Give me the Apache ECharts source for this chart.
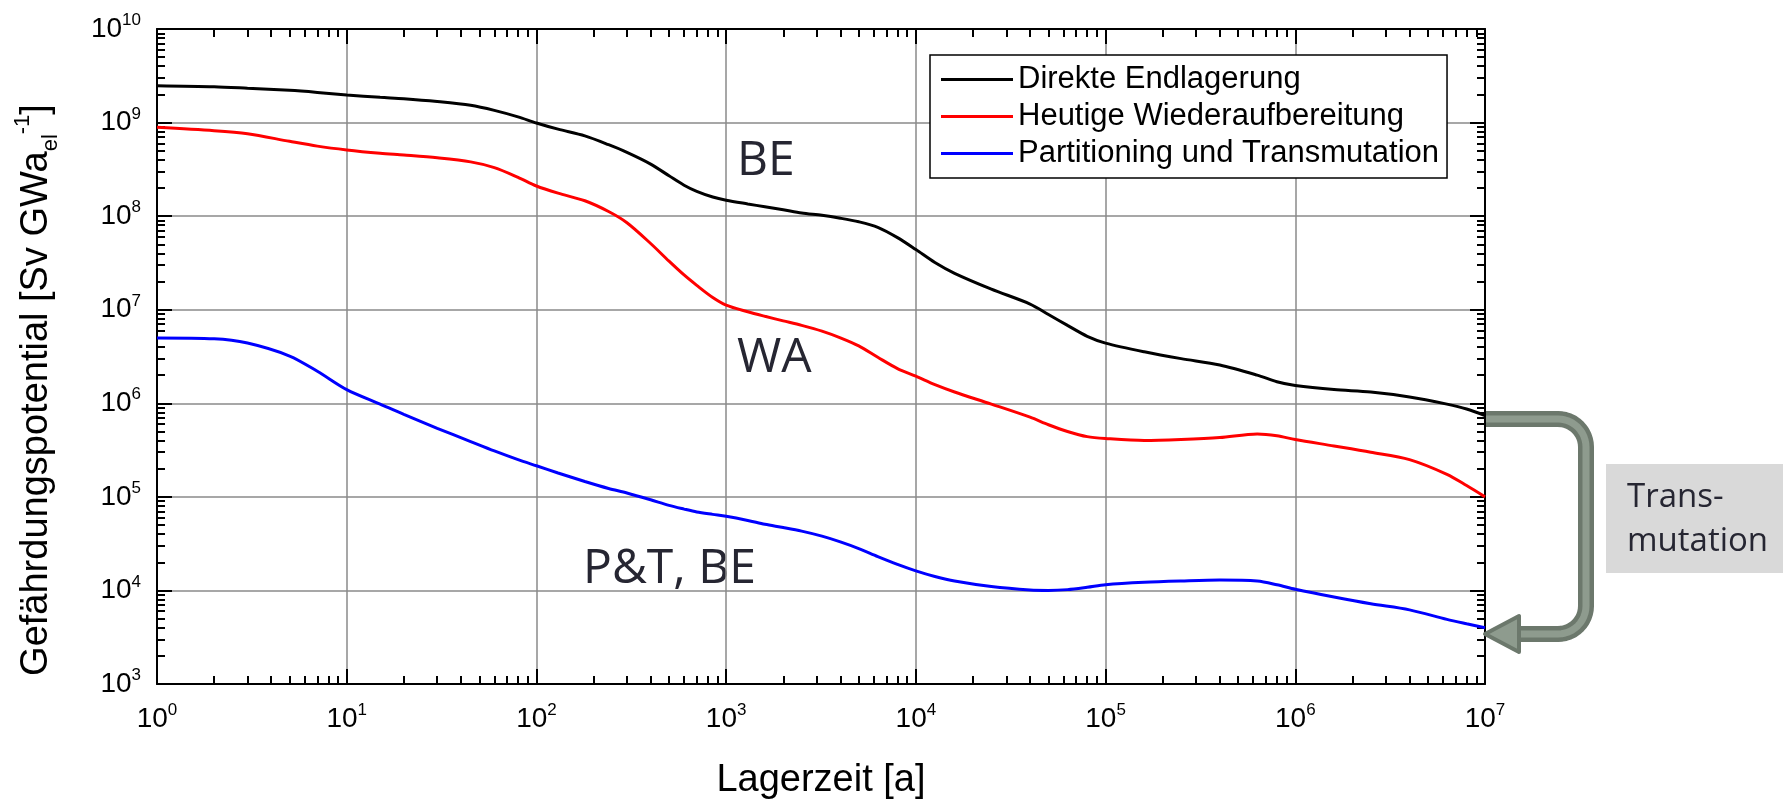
<!DOCTYPE html>
<html>
<head>
<meta charset="utf-8">
<script src="https://cdn.jsdelivr.net/npm/echarts@6/dist/echarts.min.js"></script>
<style>
  html, body { margin: 0; padding: 0; background: #fff; }
  #chart { width: 1783px; height: 802px; }
</style>
</head>
<body>
<div id="chart"></div>
<script>
// Lagerzeit [a]
var years = [1, 2, 3, 5, 7, 10, 15, 20, 30, 45, 60, 80, 100, 130, 180, 240, 300, 400, 500, 600, 700, 850,
  1000, 1300, 1600, 2000, 2500, 3200, 4000, 5000, 6300, 8000, 1e4, 1.26e4, 1.6e4, 2.5e4, 4e4, 5e4, 6.3e4, 8e4,
  1e5, 1.6e5, 2.5e5, 4e5, 6.3e5, 8e5, 1e6, 1.6e6, 2.5e6, 4e6, 6.3e6, 8e6, 1e7];
// Gefährdungspotential [Sv/GWa_el]
var direkte = [2.48e9, 2.42e9, 2.33e9, 2.21e9, 2.10e9, 1.97e9, 1.86e9, 1.80e9, 1.68e9, 1.53e9, 1.35e9, 1.15e9, 9.9e8, 8.5e8, 7.2e8, 5.8e8, 4.8e8, 3.6e8, 2.7e8, 2.14e8, 1.84e8, 1.60e8,
  1.48e8, 1.35e8, 1.26e8, 1.17e8, 1.08e8, 1.02e8, 9.5e7, 8.7e7, 7.6e7, 5.9e7, 4.4e7, 3.2e7, 2.45e7, 1.66e7, 1.15e7, 8.9e6, 6.8e6, 5.2e6,
  4.4e6, 3.55e6, 3.0e6, 2.57e6, 2.0e6, 1.7e6, 1.55e6, 1.40e6, 1.32e6, 1.17e6, 9.8e5, 8.7e5, 7.4e5];
var heutige = [8.9e8, 8.2e8, 7.6e8, 6.3e8, 5.6e8, 5.1e8, 4.7e8, 4.5e8, 4.2e8, 3.8e8, 3.3e8, 2.6e8, 2.1e8, 1.76e8, 1.46e8, 1.12e8, 8.5e7, 5.1e7, 3.3e7, 2.35e7, 1.82e7, 1.35e7,
  1.12e7, 9.5e6, 8.5e6, 7.6e6, 6.8e6, 5.9e6, 5.0e6, 4.1e6, 3.1e6, 2.35e6, 1.95e6, 1.58e6, 1.32e6, 9.8e5, 7.1e5, 5.9e5, 5.0e5, 4.4e5,
  4.2e5, 4.0e5, 4.1e5, 4.3e5, 4.7e5, 4.5e5, 4.1e5, 3.5e5, 3.0e5, 2.5e5, 1.74e5, 1.32e5, 1.0e5];
var partTrans = [5.0e6, 4.9e6, 4.4e6, 3.2e6, 2.2e6, 1.4e6, 9.8e5, 7.6e5, 5.4e5, 3.9e5, 3.1e5, 2.5e5, 2.15e5, 1.8e5, 1.46e5, 1.23e5, 1.1e5, 9.3e4, 8.1e4, 7.4e4, 6.9e4, 6.5e4,
  6.2e4, 5.6e4, 5.1e4, 4.7e4, 4.3e4, 3.8e4, 3.3e4, 2.8e4, 2.3e4, 1.9e4, 1.62e4, 1.41e4, 1.26e4, 1.1e4, 1.01e4, 1.0e4, 1.02e4, 1.08e4,
  1.15e4, 1.22e4, 1.26e4, 1.29e4, 1.26e4, 1.15e4, 1.03e4, 8.5e3, 7.2e3, 6.2e3, 4.9e3, 4.4e3, 4.0e3];

var seriesNames = ['Direkte Endlagerung', 'Heutige Wiederaufbereitung', 'Partitioning und Transmutation'];
var seriesColors = ['#000000', '#ff0000', '#0000ff'];
var seriesValues = [direkte, heutige, partTrans];

// major tick values (decades)
var xDecades = [1, 10, 100, 1000, 1e4, 1e5, 1e6, 1e7];
var yDecades = [1e3, 1e4, 1e5, 1e6, 1e7, 1e8, 1e9, 1e10];

function minorTicks(lo, hi) {
  var out = [];
  for (var p = lo; p < hi; p *= 10) {
    for (var k = 2; k < 10; k++) out.push(k * p);
  }
  return out;
}

var FONT = 'Liberation Sans, Arial, sans-serif';

function powLabel(v) {
  return '10{e|' + Math.round(Math.log10(v)) + '}';
}

var labelRich = {
  e: { fontSize: 17, fontFamily: FONT, color: '#000', verticalAlign: 'top', lineHeight: 17 }
};

function makeAxis(dim, position, major) {
  var isX = dim === 'x';
  var decades = isX ? xDecades : yDecades;
  var ax = {
    type: 'log',
    logBase: 10,
    position: position,
    min: decades[0],
    max: decades[decades.length - 1],
    axisLine: { show: major, onZero: false, lineStyle: { color: '#000', width: 2 } },
    axisTick: {
      show: true,
      inside: true,
      length: major ? 15 : 8,
      customValues: major ? decades : minorTicks(decades[0], decades[decades.length - 1]),
      lineStyle: { color: '#000', width: 2 }
    },
    axisLabel: { show: false },
    splitLine: { show: false },
    minorTick: { show: false },
    minorSplitLine: { show: false }
  };
  var primary = major && (position === 'bottom' || position === 'left');
  if (primary) {
    ax.axisLabel = {
      show: true,
      customValues: decades,
      formatter: powLabel,
      rich: labelRich,
      fontSize: 28,
      lineHeight: 34,
      fontFamily: FONT,
      color: '#000',
      margin: isX ? 18 : 16
    };
    ax.splitLine = { show: true, lineStyle: { color: '#8a8a8a', width: 1.5 } };
  }
  return ax;
}

// rounded bracket outline for the transmutation arrow
function bracketPoints(x0, y0, xr, y1, xEnd, r) {
  var pts = [[x0, y0], [xr - r, y0]];
  var i, a;
  for (i = 1; i <= 12; i++) {
    a = -Math.PI / 2 + (Math.PI / 2) * i / 12;
    pts.push([xr - r + r * Math.cos(a), y0 + r + r * Math.sin(a)]);
  }
  pts.push([xr, y1 - r]);
  for (i = 1; i <= 12; i++) {
    a = (Math.PI / 2) * i / 12;
    pts.push([xr - r + r * Math.cos(a), y1 - r + r * Math.sin(a)]);
  }
  pts.push([xEnd, y1]);
  return pts;
}
var bracket = bracketPoints(1486, 419, 1586, 634, 1512, 28);

var chart = echarts.init(document.getElementById('chart'));

chart.setOption({
  backgroundColor: '#fff',
  animation: false,
  grid: { left: 157, top: 29, right: 298, bottom: 118, containLabel: false },
  xAxis: [
    makeAxis('x', 'bottom', true),
    makeAxis('x', 'bottom', false),
    makeAxis('x', 'top', true),
    makeAxis('x', 'top', false)
  ],
  yAxis: [
    makeAxis('y', 'left', true),
    makeAxis('y', 'left', false),
    makeAxis('y', 'right', true),
    makeAxis('y', 'right', false)
  ],
  legend: {
    orient: 'vertical',
    left: 930,
    top: 55,
    padding: [9, 8, 9, 11],
    itemGap: 6,
    itemWidth: 72,
    itemHeight: 3,
    icon: 'rect',
    borderColor: '#000',
    borderWidth: 1.5,
    borderRadius: 0,
    backgroundColor: '#fff',
    textStyle: { fontSize: 31, fontFamily: FONT, color: '#000' },
    data: seriesNames
  },
  series: seriesNames.map(function (name, i) {
    return {
      name: name,
      type: 'line',
      xAxisIndex: 0,
      yAxisIndex: 0,
      symbol: 'none',
      smooth: 0.3,
      lineStyle: { color: seriesColors[i], width: 3 },
      itemStyle: { color: seriesColors[i] },
      data: years.map(function (x, j) { return [x, seriesValues[i][j]]; }),
      z: 3
    };
  }),
  graphic: [
    // axis titles
    {
      type: 'text', x: 821, y: 781,
      style: { text: 'Lagerzeit [a]', font: '38px ' + FONT, fill: '#000', align: 'center', verticalAlign: 'middle' }
    },
    {
      type: 'text', x: 37, y: 390, rotation: Math.PI / 2,
      style: {
        text: 'Gefährdungspotential [Sv GWa{sub|el}{sup|-1}]',
        font: '38px ' + FONT, fill: '#000', align: 'center', verticalAlign: 'middle', lineHeight: 50,
        rich: {
          sub: { fontSize: 22, fontFamily: FONT, fill: '#000', verticalAlign: 'bottom', lineHeight: 22 },
          sup: { fontSize: 22, fontFamily: FONT, fill: '#000', verticalAlign: 'top', lineHeight: 22 }
        }
      }
    },
    // curve annotations
    { type: 'text', x: 737, y: 161, style: { text: 'BE', font: '48px Open Sans, sans-serif', fill: '#262632', verticalAlign: 'middle' } },
    { type: 'text', x: 737, y: 358, style: { text: 'WA', font: '48px Open Sans, sans-serif', fill: '#262632', verticalAlign: 'middle' } },
    { type: 'text', x: 583, y: 569, style: { text: 'P&T, BE', font: '48px Open Sans, sans-serif', fill: '#262632', verticalAlign: 'middle' } },
    // transmutation box and arrow
    { type: 'rect', shape: { x: 1606, y: 464, width: 177, height: 109 }, style: { fill: '#d9d9d9' } },
    {
      type: 'text', x: 1627, y: 476,
      style: { text: 'Trans-\nmutation', font: '33px Open Sans, sans-serif', fill: '#262632', lineHeight: 44, verticalAlign: 'top' }
    },
    {
      type: 'polyline', z: 10,
      shape: { points: bracket },
      style: { fill: null, stroke: '#6c786c', lineWidth: 16, lineJoin: 'round' }
    },
    {
      type: 'polyline', z: 11,
      shape: { points: bracket },
      style: { fill: null, stroke: '#8e9b8e', lineWidth: 7, lineJoin: 'round' }
    },
    {
      type: 'polygon', z: 12,
      shape: { points: [[1485, 634], [1519, 616], [1519, 652]] },
      style: { fill: '#8e9b8e', stroke: '#6c786c', lineWidth: 4, lineJoin: 'round' }
    }
  ]
});
</script>
</body>
</html>
